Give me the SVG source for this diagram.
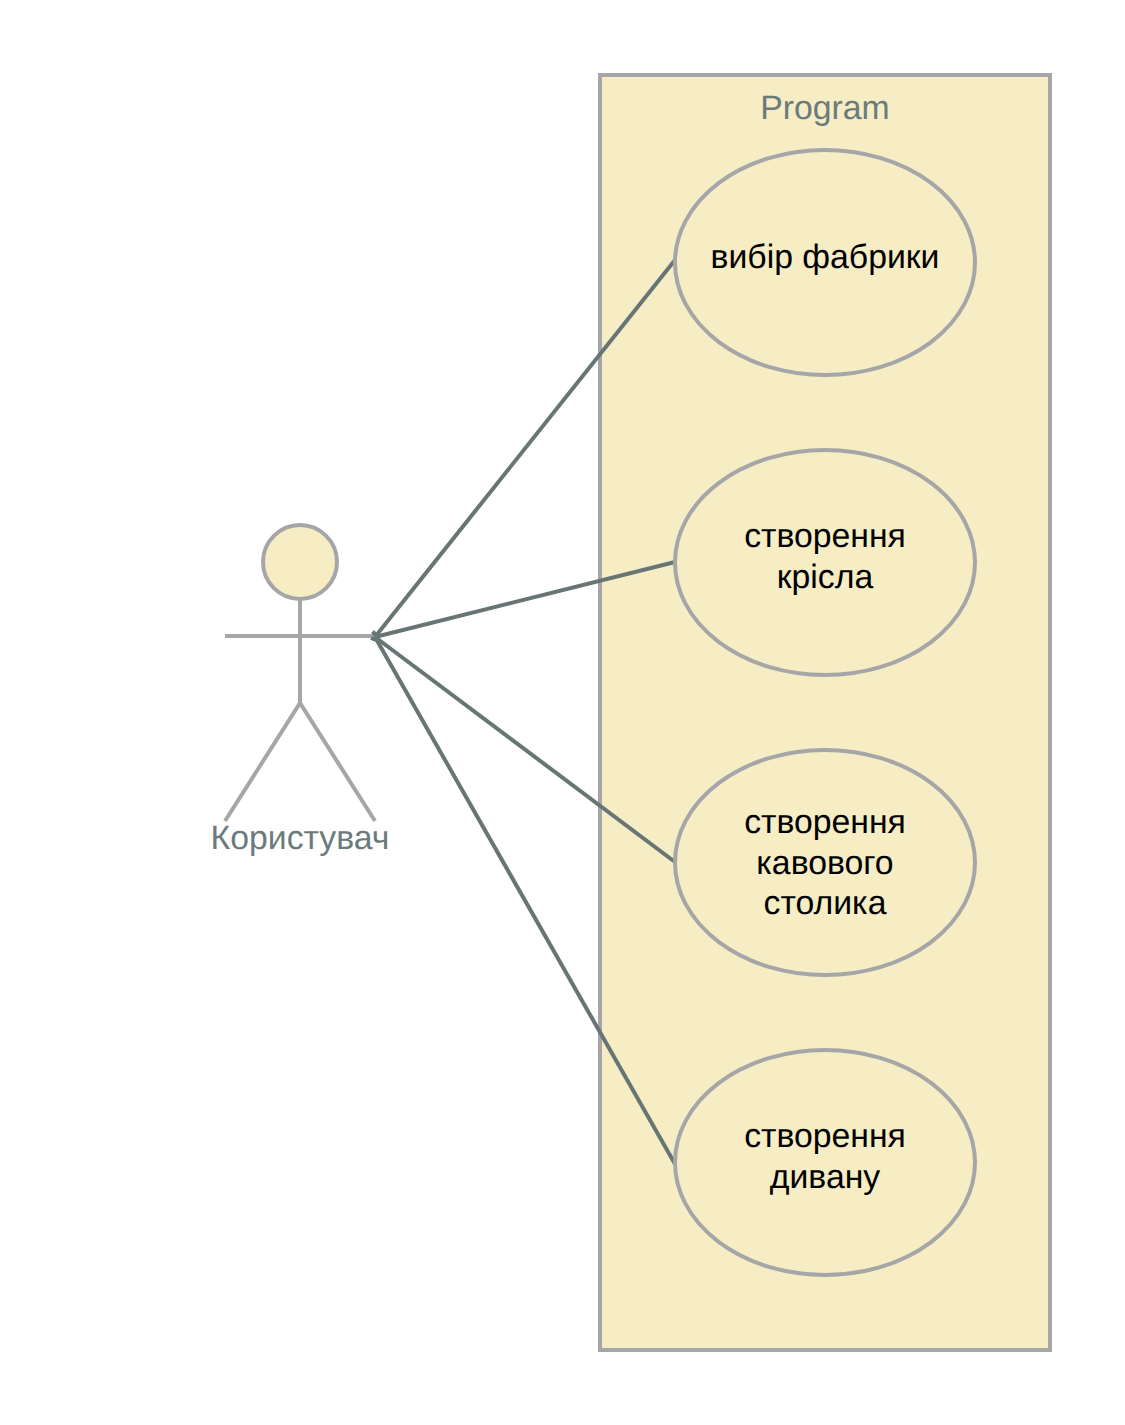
<svg xmlns="http://www.w3.org/2000/svg" width="1125" height="1425" viewBox="0 0 1125 1425">
<style>
text{font-family:"Liberation Sans",Arial,sans-serif;font-size:33.75px;text-anchor:middle;text-rendering:geometricPrecision}
.s{fill:#f6edc5;stroke:#a6a5a7;stroke-width:4}
.l{fill:none;stroke:#a6a5a7;stroke-width:4}
.c{fill:none;stroke:#677674;stroke-width:4}
.g{fill:#6b7b7c}
.k{fill:#000}
</style>
<rect width="1125" height="1425" fill="#fff"/>
<g id="program"><rect class="s" x="600" y="75" width="450" height="1275"/><text class="g" x="825" y="119">Program</text></g>
<g id="actor">
<circle class="s" cx="300" cy="562" r="37"/>
<path class="l" d="M300 600V703M225 636H375M225 821 300 703 375 821"/>
<text class="g" x="300" y="849">Користувач</text>
</g>
<g id="connectors">
<path class="c" d="M372.500 631.500 378 637M371 638 376 640"/>
<path class="c" d="M375 637 675 260"/>
<path class="c" d="M375 637 675 562"/>
<path class="c" d="M375 637 675 862"/>
<path class="c" d="M375 637 675 1164"/>
</g>
<g id="uc1"><ellipse class="s" cx="825" cy="262.500" rx="150" ry="112.500"/><text class="k" x="825" y="268">вибір фабрики</text></g>
<g id="uc2"><ellipse class="s" cx="825" cy="562.500" rx="150" ry="112.500"/><text class="k" x="825" y="547">створення</text><text class="k" x="825" y="587.500">крісла</text></g>
<g id="uc3"><ellipse class="s" cx="825" cy="862.500" rx="150" ry="112.500"/><text class="k" x="825" y="833">створення</text><text class="k" x="825" y="873.500">кавового</text><text class="k" x="825" y="913.500">столика</text></g>
<g id="uc4"><ellipse class="s" cx="825" cy="1162.500" rx="150" ry="112.500"/><text class="k" x="825" y="1147">створення</text><text class="k" x="825" y="1187.500">дивану</text></g>
</svg>
